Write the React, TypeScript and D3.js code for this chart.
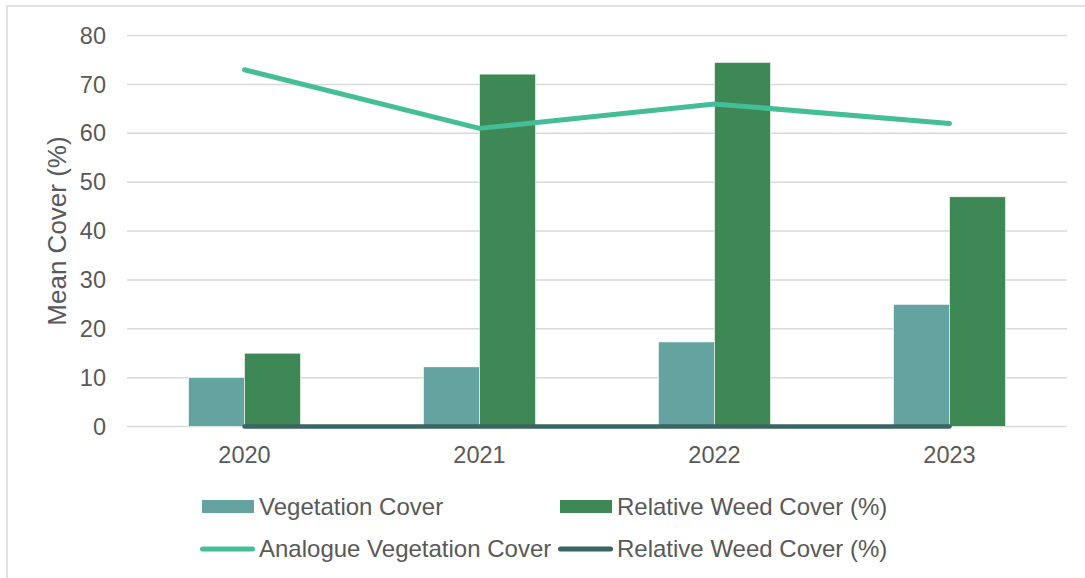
import React from "react";
import * as d3 from "d3";

// Chart data
const years = ["2020", "2021", "2022", "2023"];
const vegetationCover = [10, 12.2, 17.3, 25];
const relativeWeedCover = [15, 72.1, 74.5, 47];
const analogueVegetationCover = [73, 61, 66, 62];
const relativeWeedLine = [0, 0, 0, 0];
const yTicks = [0, 10, 20, 30, 40, 50, 60, 70, 80];

const W = 1085;
const H = 578;
const left = 127;
const right = 1067;
const top = 35.5;
const bottom = 426.5;

const C_TEAL = "#64a39f";
const C_GREEN = "#3e8856";
const C_LINE = "#45bd97";
const C_DARK = "#3a6562";
const C_TEXT = "#595959";
const C_GRID = "#d9d9d9";
const FONT = "'Liberation Sans', Arial, sans-serif";

export default function App() {
  const x = d3.scaleBand<string>().domain(years).range([left, right]).paddingInner(0.523).paddingOuter(0.2615);
  const step = (right - left) / years.length;
  const cx = (d: string) => left + step * (years.indexOf(d) + 0.5);
  const bw = x.bandwidth() / 2;
  const y = d3.scaleLinear().domain([0, 80]).range([bottom, top]);

  const line = d3
    .line<number>()
    .x((_, i) => cx(years[i]))
    .y((v) => y(v));

  return (
    <svg width={W} height={H} style={{ position: "absolute", left: 0, top: 0, background: "#fff" }}>
      <rect x={7} y={6} width={1200} height={700} fill="#fff" stroke={C_GRID} strokeWidth={1.5} />

      {/* gridlines */}
      {yTicks.map((t) => (
        <line key={t} x1={left} x2={right} y1={y(t)} y2={y(t)} stroke={C_GRID} strokeWidth={1.5} />
      ))}

      {/* y tick labels */}
      {yTicks.map((t) => (
        <text key={t} x={106} y={y(t)} dy="0.35em" textAnchor="end" fontFamily={FONT} fontSize={23.5} fill={C_TEXT}>
          {t}
        </text>
      ))}

      <text
        transform={`translate(66,${231}) rotate(-90)`}
        textAnchor="middle"
        fontFamily={FONT}
        fontSize={26}
        fill={C_TEXT}
      >
        Mean Cover (%)
      </text>

      {/* bars */}
      {years.map((yr, i) => (
        <g key={yr}>
          <rect
            x={x(yr)!}
            y={y(vegetationCover[i])}
            width={bw}
            height={y(0) - y(vegetationCover[i])}
            fill={C_TEAL}
            stroke="#fff"
            strokeWidth={0.6}
          />
          <rect
            x={x(yr)! + bw}
            y={y(relativeWeedCover[i])}
            width={bw}
            height={y(0) - y(relativeWeedCover[i])}
            fill={C_GREEN}
            stroke="#fff"
            strokeWidth={0.6}
          />
        </g>
      ))}

      {/* lines */}
      <path d={line(relativeWeedLine)!} fill="none" stroke={C_DARK} strokeWidth={4.5} strokeLinecap="round" strokeLinejoin="round" />
      <path d={line(analogueVegetationCover)!} fill="none" stroke={C_LINE} strokeWidth={5} strokeLinecap="round" strokeLinejoin="round" />

      {/* x labels */}
      {years.map((yr) => (
        <text key={yr} x={cx(yr)} y={463} textAnchor="middle" fontFamily={FONT} fontSize={23.5} fill={C_TEXT}>
          {yr}
        </text>
      ))}

      {/* legend */}
      <g fontFamily={FONT} fontSize={24} fill={C_TEXT}>
        <rect x={202} y={500} width={52} height={13} fill={C_TEAL} />
        <text x={259} y={515}>Vegetation Cover</text>
        <rect x={560} y={500} width={52} height={13} fill={C_GREEN} />
        <text x={617} y={515}>Relative Weed Cover (%)</text>
        <line x1={202.5} x2={252.5} y1={549} y2={549} stroke={C_LINE} strokeWidth={5} strokeLinecap="round" />
        <text x={259} y={557}>Analogue Vegetation Cover</text>
        <line x1={560.5} x2={610.5} y1={549} y2={549} stroke={C_DARK} strokeWidth={5} strokeLinecap="round" />
        <text x={617} y={557}>Relative Weed Cover (%)</text>
      </g>
    </svg>
  );
}
